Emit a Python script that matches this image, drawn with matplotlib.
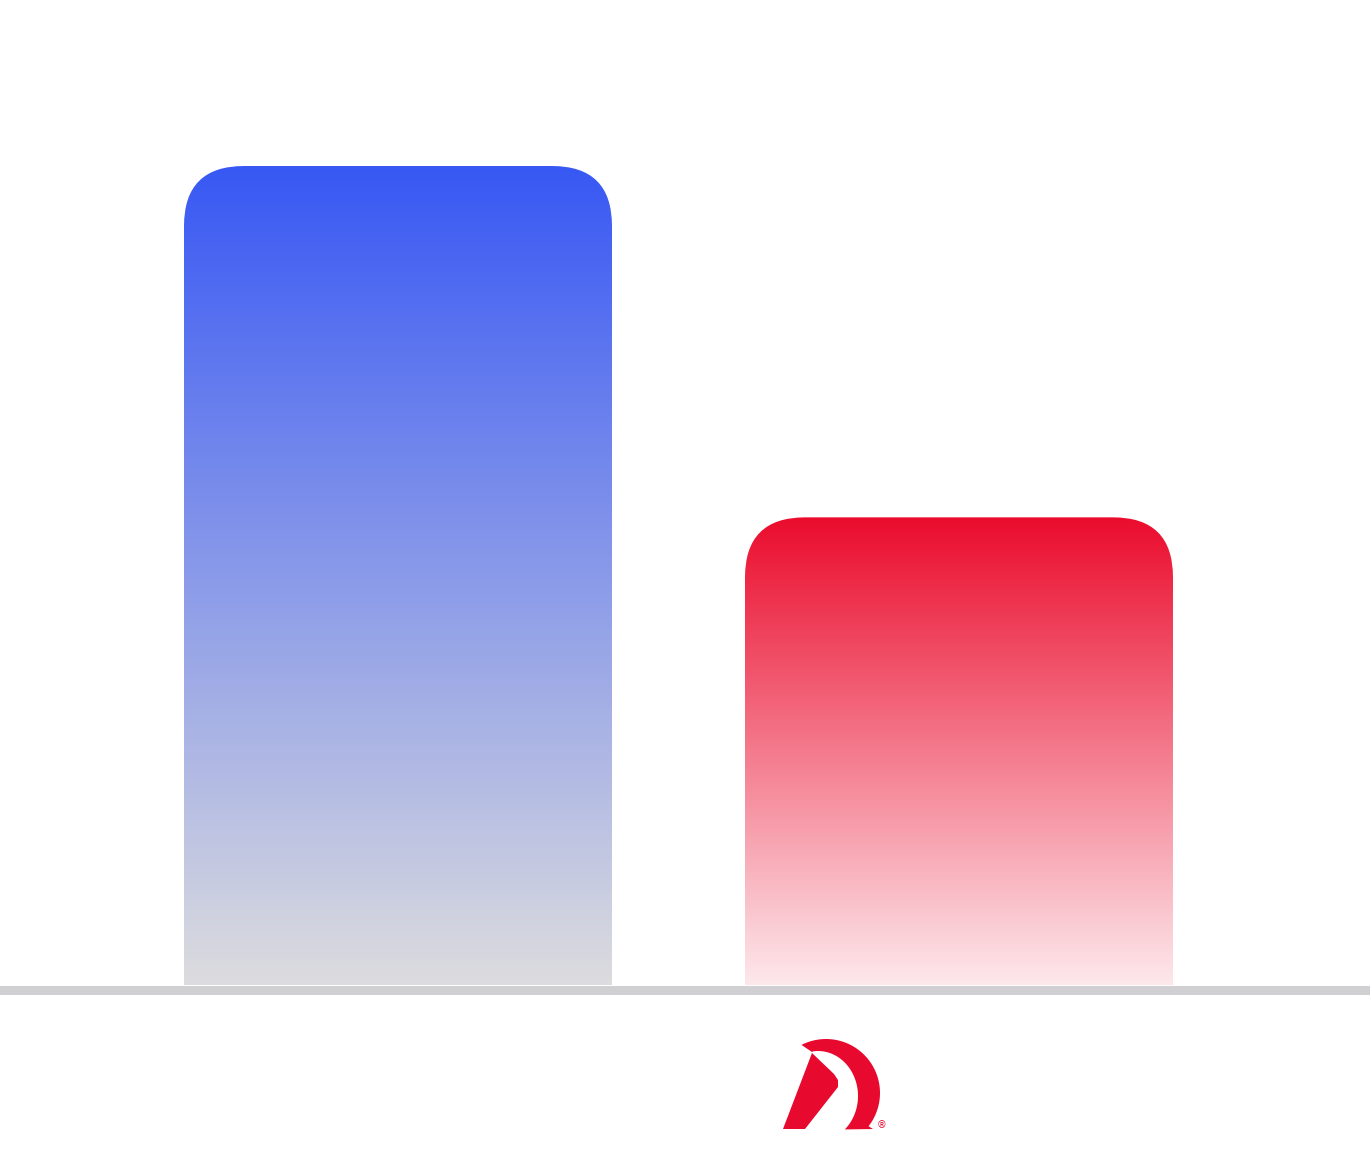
import numpy as np
import matplotlib
matplotlib.use("Agg")
import matplotlib.pyplot as plt
from matplotlib.patches import FancyBboxPatch, Polygon
from matplotlib.colors import LinearSegmentedColormap

# data
categories = ['Other', 'DoorDash']
values = [100, 57.1]
top_colors = ['#3858F4', '#EB0C2D']
bottom_colors = ['#DCDCDE', '#FDE8EC']

W, H = 1370, 1159
fig = plt.figure(figsize=(W/100, H/100), dpi=100)
fig.patch.set_facecolor('white')

# pixel layout
base_px = 985          # baseline, px from top
full_px = 819          # height of the 100 bar
xc0, dx = 398, 561     # first bar centre, spacing
bar_w = 428 / dx

ax = fig.add_axes([0, 0, 1, 1])
ax.set_xlim(-xc0/dx, (W - xc0)/dx)
ax.set_ylim(-(H - base_px)/full_px*100, base_px/full_px*100)
ax.axis('off')

# data units per pixel, for round corners
ux = 1.0/dx
uy = 100.0/full_px
r_px = 60

for i, (v, c1, c2) in enumerate(zip(values, top_colors, bottom_colors)):
    x0 = i - bar_w/2
    patch = FancyBboxPatch((x0, -r_px*uy*2), bar_w, v + r_px*uy*2,
                           boxstyle="round,pad=0,rounding_size=%f" % (r_px*ux),
                           mutation_aspect=uy/ux, facecolor='none',
                           edgecolor='none')
    ax.add_patch(patch)
    cmap = LinearSegmentedColormap.from_list('g%d' % i, [c2, c1])
    grad = np.linspace(0, 1, 256).reshape(-1, 1)
    im = ax.imshow(grad, cmap=cmap, aspect='auto', origin='lower',
                   extent=[x0, x0 + bar_w, 0, v], interpolation='bicubic',
                   zorder=2)
    im.set_clip_path(patch)

# baseline
ax.axhline(-4.5*uy, color='#D0D0D2', lw=6.5, zorder=3)

# logo under the second bar (pixel coordinates)
lax = fig.add_axes([770/W, (H-1140)/H, 130/W, 110/H])
lax.set_xlim(770, 900)
lax.set_ylim(1140, 1030)
lax.axis('off')
red = '#E8092E'

t = np.linspace(np.radians(117), np.radians(-38), 60)
outer = np.c_[826 + 54*np.cos(t), 1093 - 54*np.sin(t)]
t2 = np.linspace(np.radians(-48), np.radians(97), 60)
inner = np.c_[818 + 40*np.cos(t2), 1096 - 45*np.sin(t2)]
arc = np.vstack([outer, [[873, 1129]], inner, [[812, 1052]]])
lax.add_patch(Polygon(arc, closed=True, facecolor=red, edgecolor='none'))

blade = [[812, 1053], [834, 1074], [838, 1080], [838, 1087], [805, 1129],
         [783, 1129]]
lax.add_patch(Polygon(blade, closed=True, facecolor=red, edgecolor='none'))
lax.text(882, 1125, '\u00ae', color=red, fontsize=7, ha='center', va='center')

fig.savefig('out.png', dpi=100, facecolor='white')
